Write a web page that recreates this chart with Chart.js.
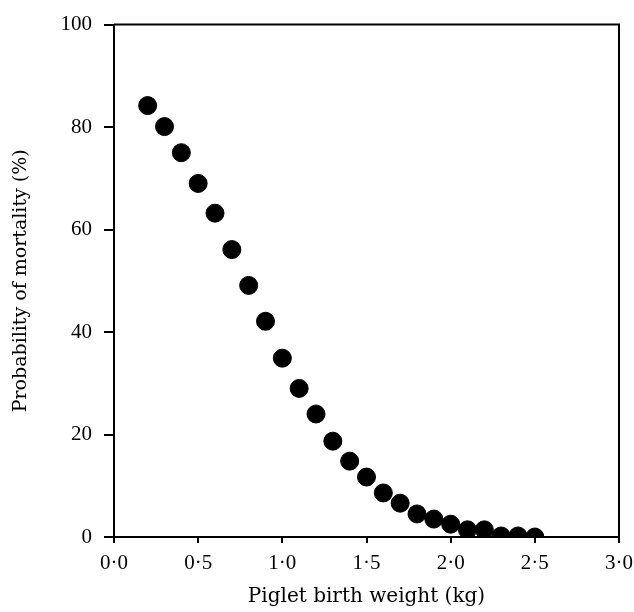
<!DOCTYPE html>
<html>
<head>
<meta charset="utf-8">
<script src="https://cdn.jsdelivr.net/npm/chart.js@4.4.1/dist/chart.umd.min.js"></script>
<style>
  html, body { margin: 0; padding: 0; background: #fff; }
  #wrap { width: 634px; height: 612px; }
</style>
</head>
<body>
<div id="wrap"><canvas id="mortChart" width="634" height="612"></canvas></div>
<script>
// Piglet birth weight (kg) vs probability of mortality (%)
const weights = [0.2, 0.3, 0.4, 0.5, 0.6, 0.7, 0.8, 0.9, 1.0, 1.1, 1.2, 1.3,
                 1.4, 1.5, 1.6, 1.7, 1.8, 1.9, 2.0, 2.1, 2.2, 2.3, 2.4, 2.5];
const mortality = [84.2, 80.1, 75.0, 69.0, 63.2, 56.1, 49.1, 42.1, 34.9, 29.0, 24.0, 18.7,
                   14.8, 11.7, 8.6, 6.6, 4.5, 3.5, 2.5, 1.4, 1.4, 0.2, 0.2, 0];
const xTickLabels = ['0·0', '0·5', '1·0', '1·5', '2·0', '2·5', '3·0'];
const yTickLabels = ['0', '20', '40', '60', '80', '100'];

const tickFont = '"Liberation Serif", "DejaVu Serif", serif';
const titleFont = '"DejaVu Serif", "Liberation Serif", serif';

// closes the box: top and right edges of the plot area
const frame = {
    id: 'frame',
    afterDraw(chart) {
        const { ctx, chartArea: a } = chart;
        ctx.save();
        ctx.strokeStyle = '#000';
        ctx.lineWidth = 2;
        ctx.beginPath();
        ctx.moveTo(a.left, a.top);
        ctx.lineTo(a.right, a.top);
        ctx.lineTo(a.right, a.bottom);
        ctx.stroke();
        ctx.restore();
    }
};

new Chart(document.getElementById('mortChart'), {
    type: 'scatter',
    data: {
        datasets: [{
            data: weights.map((w, i) => ({ x: w, y: mortality[i] })),
            backgroundColor: '#000',
            borderColor: '#000',
            pointRadius: 9,
            pointHoverRadius: 9
        }]
    },
    options: {
        responsive: false,
        animation: false,
        layout: { padding: { top: 23, right: 15, left: 0, bottom: 0 } },
        plugins: { legend: { display: false }, tooltip: { enabled: false } },
        scales: {
            x: {
                type: 'linear',
                min: 0, max: 3,
                afterFit: s => { s.height = 75; s.paddingRight = 0; },
                ticks: {
                    stepSize: 0.5,
                    color: '#000',
                    font: { family: tickFont, size: 21 },
                    padding: 8,
                    maxRotation: 0,
                    callback: (v, i) => xTickLabels[i]
                },
                grid: { drawOnChartArea: false, drawTicks: true, tickLength: 6, color: '#000', lineWidth: 2 },
                border: { display: true, color: '#000', width: 2 },
                title: {
                    display: true,
                    text: 'Piglet birth weight (kg)',
                    color: '#000',
                    font: { family: titleFont, size: 20 },
                    padding: { top: 0, bottom: 3 }
                }
            },
            y: {
                min: 0, max: 100,
                afterFit: s => { s.width = 114; },
                ticks: {
                    stepSize: 20,
                    color: '#000',
                    font: { family: tickFont, size: 21 },
                    padding: 12,
                    callback: (v, i) => yTickLabels[i]
                },
                grid: { drawOnChartArea: false, drawTicks: true, tickLength: 10, color: '#000', lineWidth: 2 },
                border: { display: true, color: '#000', width: 2 },
                title: {
                    display: true,
                    text: 'Probability of mortality (%)',
                    color: '#000',
                    font: { family: titleFont, size: 19 },
                    padding: { top: 10, bottom: 0 }
                }
            }
        }
    },
    plugins: [frame]
});
</script>
</body>
</html>
